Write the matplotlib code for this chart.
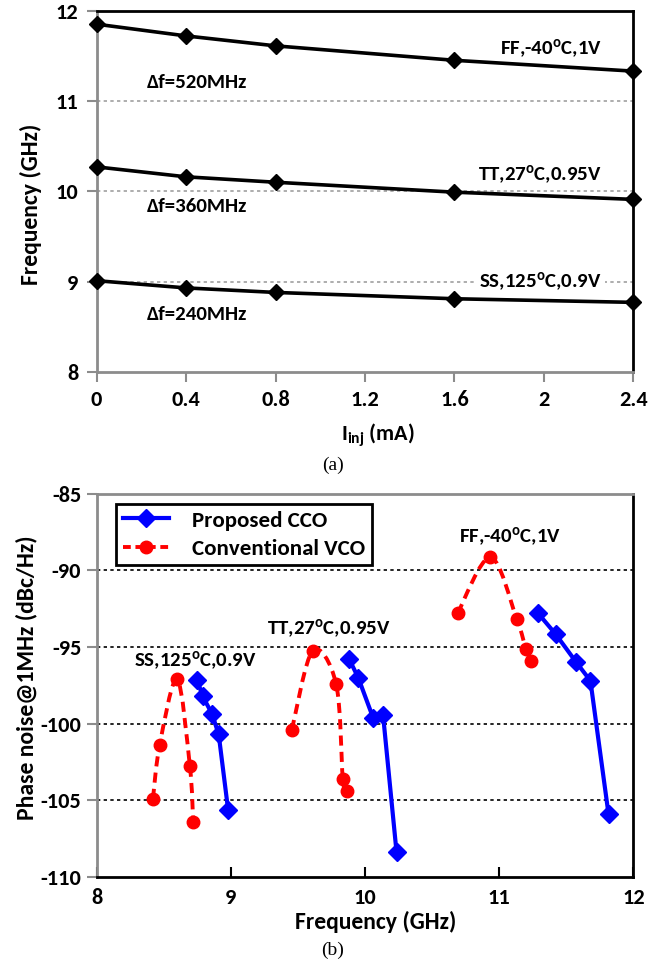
import matplotlib
matplotlib.use('Agg')
import matplotlib.pyplot as plt
from matplotlib.path import Path
from matplotlib.patches import PathPatch
from matplotlib.lines import Line2D

plt.rcParams['font.family'] = ['Carlito', 'DejaVu Sans']
plt.rcParams['font.weight'] = 'bold'
plt.rcParams['axes.unicode_minus'] = False
plt.rcParams['mathtext.fontset'] = 'custom'
plt.rcParams['mathtext.rm'] = 'Carlito:bold'
plt.rcParams['mathtext.it'] = 'Carlito:bold'
plt.rcParams['mathtext.bf'] = 'Carlito:bold'

# (a) frequency vs injected current
iinj = [0, 0.4, 0.8, 1.6, 2.4]
freq_ff = [11.85, 11.72, 11.61, 11.45, 11.33]
freq_tt = [10.27, 10.16, 10.10, 9.99, 9.91]
freq_ss = [9.01, 8.93, 8.88, 8.81, 8.77]

# (b) phase noise vs frequency, one group per corner
cco_f = [[8.75, 8.79, 8.86, 8.91, 8.98],
         [9.88, 9.95, 10.06, 10.135, 10.235],
         [11.29, 11.42, 11.575, 11.68, 11.815]]
cco_pn = [[-97.15, -98.2, -99.35, -100.7, -105.6],
          [-95.75, -97.0, -99.6, -99.45, -108.35],
          [-92.8, -94.15, -96.0, -97.2, -105.9]]
vco_f = [[8.42, 8.47, 8.60, 8.695, 8.72],
         [9.455, 9.61, 9.785, 9.835, 9.865],
         [10.69, 10.935, 11.13, 11.20, 11.235]]
vco_pn = [[-104.9, -101.4, -97.1, -102.75, -106.4],
          [-100.4, -95.25, -97.4, -103.6, -104.4],
          [-92.8, -89.15, -93.15, -95.15, -95.9]]


def smooth_path(xs, ys):
    # excel style smoothed line through the points (catmull-rom as bezier)
    pts = list(zip(xs, ys))
    verts = [pts[0]]
    codes = [Path.MOVETO]
    for i in range(len(pts) - 1):
        p0 = pts[i - 1] if i > 0 else pts[i]
        p1 = pts[i]
        p2 = pts[i + 1]
        p3 = pts[i + 2] if i + 2 < len(pts) else pts[i + 1]
        c1 = (p1[0] + (p2[0] - p0[0]) / 6, p1[1] + (p2[1] - p0[1]) / 6)
        c2 = (p2[0] - (p3[0] - p1[0]) / 6, p2[1] - (p3[1] - p1[1]) / 6)
        verts += [c1, c2, p2]
        codes += [Path.CURVE4] * 3
    return Path(verts, codes)


fig = plt.figure(figsize=(6.66, 9.66), dpi=100)
grey = '#8c8c8c'

# ---- top chart ----
ax1 = fig.add_axes([0.145, 0.615, 0.806, 0.374])
for yy in [9, 10, 11]:
    ax1.axhline(yy, color='#a0a0a0', ls=(0, (2, 2)), lw=1.2, zorder=1)
for f in [freq_ff, freq_tt, freq_ss]:
    ax1.plot(iinj, f, color='black', lw=2.6, marker='D', ms=8.5, clip_on=False, zorder=3)
ax1.set_xlim(0, 2.4)
ax1.set_ylim(8, 12)
ax1.set_xticks([0, 0.4, 0.8, 1.2, 1.6, 2, 2.4])
ax1.set_xticklabels(['0', '0.4', '0.8', '1.2', '1.6', '2', '2.4'])
ax1.set_yticks([8, 9, 10, 11, 12])
ax1.spines['left'].set_color(grey)
ax1.spines['bottom'].set_color(grey)
for s in ['top', 'left', 'bottom', 'right']:
    ax1.spines[s].set_linewidth(2)
ax1.tick_params(direction='out', length=7, width=1.5, color=grey, labelsize=16, pad=6)
ax1.set_xlabel('I$_{inj}$ (mA)', fontsize=16, fontweight='bold', labelpad=8)
ax1.set_ylabel('Frequency (GHz)', fontsize=17, fontweight='bold', labelpad=10)
ax1.xaxis.label.set_x(0.525)
ax1.yaxis.label.set_y(0.465)

ax1.text(2.26, 11.58, 'FF,-40$^{o}$C,1V', fontsize=15, ha='right', va='center')
ax1.text(2.26, 10.18, 'TT,27$^{o}$C,0.95V', fontsize=15, ha='right', va='center')
ax1.text(2.26, 9.0, 'SS,125$^{o}$C,0.9V', fontsize=15, ha='right', va='center',
         bbox=dict(facecolor='white', edgecolor='none', pad=2), zorder=2)
ax1.text(0.45, 11.2, 'Δf=520MHz', fontsize=15, ha='center', va='center')
ax1.text(0.45, 9.83, 'Δf=360MHz', fontsize=15, ha='center', va='center')
ax1.text(0.45, 8.64, 'Δf=240MHz', fontsize=15, ha='center', va='center')

fig.text(0.5, 0.518, '(a)', fontsize=14, ha='center', va='center',
         family='Liberation Serif', fontweight='normal')

# ---- bottom chart ----
ax2 = fig.add_axes([0.145, 0.092, 0.806, 0.397])
for yy in [-90, -95, -100, -105]:
    ax2.axhline(yy, color='black', ls=(0, (2, 2)), lw=1.2, zorder=1)
for i in range(3):
    ax2.add_patch(PathPatch(smooth_path(vco_f[i], vco_pn[i]), fill=False,
                            edgecolor='#ff0000', lw=2.8, ls=(0, (2.6, 1.6)), zorder=2))
    ax2.plot(vco_f[i], vco_pn[i], ls='none', marker='o', ms=9, color='#ff0000', zorder=3)
    ax2.plot(cco_f[i], cco_pn[i], color='#0000ff', lw=3, marker='D', ms=9.5, zorder=4)
ax2.set_xlim(8, 12)
ax2.set_ylim(-110, -85)
ax2.set_xticks([8, 9, 10, 11, 12])
ax2.set_yticks([-110, -105, -100, -95, -90, -85])
ax2.spines['top'].set_color(grey)
ax2.spines['left'].set_color(grey)
for s in ['top', 'left', 'bottom', 'right']:
    ax2.spines[s].set_linewidth(2)
ax2.tick_params(axis='y', direction='out', length=7, width=1.5, color=grey, labelsize=16, pad=4)
ax2.tick_params(axis='x', direction='in', length=7, width=1.5, color='black', labelsize=16, pad=8)
ax2.set_xlabel('Frequency (GHz)', fontsize=17, fontweight='bold', labelpad=2)
ax2.set_ylabel('Phase noise@1MHz (dBc/Hz)', fontsize=17, fontweight='bold', labelpad=2)
ax2.xaxis.label.set_x(0.52)
ax2.yaxis.label.set_y(0.52)

ax2.text(8.74, -95.9, 'SS,125$^{o}$C,0.9V', fontsize=15, ha='center', va='center')
ax2.text(9.73, -93.8, 'TT,27$^{o}$C,0.95V', fontsize=15, ha='center', va='center')
ax2.text(11.08, -87.8, 'FF,-40$^{o}$C,1V', fontsize=15, ha='center', va='center')

handles = [Line2D([], [], color='#0000ff', lw=3, marker='D', ms=9.5),
           Line2D([], [], color='#ff0000', lw=2.8, ls=(0, (2, 1.2)), marker='o', ms=9)]
leg = ax2.legend(handles, ['Proposed CCO', 'Conventional VCO'], loc='upper left',
                 bbox_to_anchor=(0.037, 0.974), fontsize=16.5, fancybox=False,
                 framealpha=1, edgecolor='black', handlelength=2.0, borderpad=0.3,
                 labelspacing=0.35, handletextpad=1.0, borderaxespad=0)
leg.get_frame().set_linewidth(2)

fig.text(0.5, 0.0166, '(b)', fontsize=14, ha='center', va='center',
         family='Liberation Serif', fontweight='normal')

fig.savefig('out.png', dpi=100)
